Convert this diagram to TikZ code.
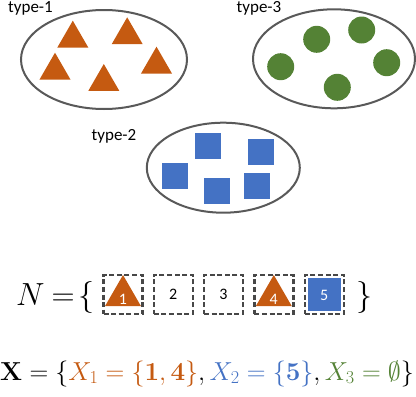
\RequirePackage{fix-cm}
\documentclass[tikz,border=0pt]{standalone}
\usepackage{amsmath}
\usepackage{amssymb}
\usepackage[no-math]{fontspec}
\setmainfont{Carlito}
\usetikzlibrary{shapes.geometric,positioning}
\definecolor{typeA}{HTML}{C55A11}
\definecolor{typeB}{HTML}{4472C4}
\definecolor{typeC}{HTML}{548235}
\definecolor{rim}{HTML}{595959}
\tikzset{
  grp/.style={ellipse,draw=rim,line width=2pt,inner sep=0pt},
  tri/.style={regular polygon,regular polygon sides=3,fill=typeA,inner sep=0pt,minimum size=35.8pt},
  sq/.style={rectangle,fill=typeB,inner sep=0pt,minimum size=26pt},
  dot/.style={circle,fill=typeC,inner sep=0pt,minimum size=27pt},
  slot/.style={rectangle,draw=rim!80!black,line width=2.4pt,dash pattern=on 5pt off 2.6pt,inner sep=0pt,minimum size=39pt},
  lbl/.style={font=\fontsize{17}{20}\selectfont,anchor=base west,inner sep=0pt},
  num/.style={font=\fontsize{16}{19}\selectfont,inner sep=0pt}
}

\begin{document}
\begin{tikzpicture}[x=1pt,y=-1pt]
    \useasboundingbox (0,0) rectangle (416,397);

    % type-1 set (triangles)
    \node[grp, minimum width=166pt, minimum height=99pt] (g1) at (104,59.5) {};
    \node[lbl] (l1) at (8,12.5) {type-1};
    \node[tri] (t1) at (72.8,38.6) {};
    \node[tri] (t2) at (127.2,35.2) {};
    \node[tri] (t3) at (55,70.6) {};
    \node[tri] (t4) at (103.8,81.9) {};
    \node[tri] (t5) at (156.5,64.6) {};

    % type-3 set (circles)
    \node[grp, minimum width=162pt, minimum height=99pt] (g3) at (334,58.8) {};
    \node[lbl] (l3) at (236.5,12.5) {type-3};
    \node[dot] (c1) at (316.7,39.3) {};
    \node[dot] (c2) at (361.7,30) {};
    \node[dot] (c3) at (280.7,66.7) {};
    \node[dot] (c4) at (386.7,62.7) {};
    \node[dot] (c5) at (337.3,87.3) {};

    % type-2 set (squares)
    \node[grp, minimum width=153pt, minimum height=90pt] (g2) at (223.3,167.7) {};
    \node[lbl] (l2) at (91.5,140.5) {type-2};
    \node[sq] (s1) at (208,145.7) {};
    \node[sq] (s2) at (260.7,151.5) {};
    \node[sq] (s3) at (174.8,175.5) {};
    \node[sq] (s4) at (217,191.3) {};
    \node[sq] (s5) at (256.8,186.2) {};

    % the ground set N
    \node[font=\fontsize{32}{38}\selectfont, anchor=base west, inner sep=0pt] (nopen) at (16,305) {$N\mskip-1mu=\mskip-3mu\{$};
    \node[font=\fontsize{32}{38}\selectfont, anchor=base west, inner sep=0pt] (nclose) at (356,305) {$\}$};
    \foreach \i/\x in {1/123,2/173.3,3/223.5,4/273.8,5/324.2}
        \node[slot] (b\i) at (\x,294.2) {};
    \node[tri, minimum size=41.6pt, yshift=-1.6pt] (bt1) at (b1.center) {};
    \node[tri, minimum size=41.6pt, yshift=-1.6pt] (bt4) at (b4.center) {};
    \node[sq, minimum size=33pt] (bs5) at (b5.center) {};
    \node[num, white, yshift=-5pt] (n1) at (b1.center) {1};
    \node[num] (n2) at (b2.center) {2};
    \node[num] (n3) at (b3.center) {3};
    \node[num, white, yshift=-5pt] (n4) at (b4.center) {4};
    \node[num, white, yshift=-1pt] (n5) at (b5.center) {5};

    % the partition X
    \node[font=\fontsize{26}{31}\selectfont, anchor=base west, inner sep=0pt] (xset) at (0,380)
        {$\mathbf{X}=\{\textcolor{typeA}{X_1=\{\mathbf{1},\mathbf{4}\}},\textcolor{typeB}{X_2=\{\mathbf{5}\}},\textcolor{typeC}{X_3=\emptyset}\}$};
\end{tikzpicture}
\end{document}
